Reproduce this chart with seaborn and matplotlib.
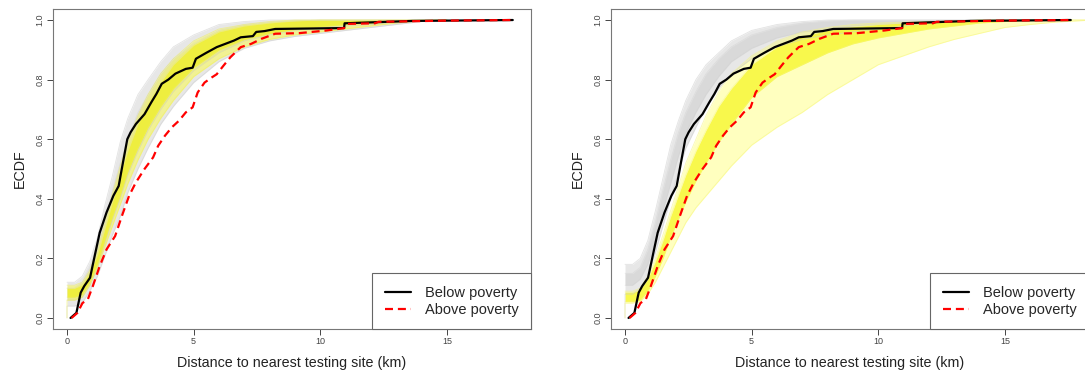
import matplotlib
matplotlib.use("Agg")
import matplotlib.pyplot as plt
import seaborn as sns
import pandas as pd
import numpy as np

below_x = [0.14, 0.37, 0.54, 0.68, 0.91, 1.09, 1.29, 1.56, 1.83, 2.04, 2.21, 2.38, 2.51, 2.72,
           3.06, 3.33, 3.53, 3.74, 4.00, 4.28, 4.69, 4.96, 5.09, 5.50, 5.91, 6.59, 6.86, 7.34,
           7.47, 7.81, 8.22, 10.94, 10.96, 12.3, 13.65, 17.6]
below_y = [0.0, 0.017, 0.085, 0.107, 0.135, 0.207, 0.286, 0.354, 0.41, 0.443, 0.522, 0.60,
           0.623, 0.651, 0.684, 0.724, 0.752, 0.786, 0.80, 0.82, 0.836, 0.84, 0.87, 0.89, 0.909,
           0.931, 0.942, 0.946, 0.96, 0.963, 0.97, 0.973, 0.989, 0.993, 0.997, 1.0]

above_x = [0.18, 0.41, 0.61, 0.82, 1.02, 1.29, 1.56, 1.90, 2.17, 2.45, 2.72, 3.06, 3.40, 3.60,
           3.87, 4.14, 4.42, 4.69, 4.96, 5.16, 5.43, 5.71, 5.91, 6.18, 6.45, 6.86, 7.27, 7.68,
           8.22, 9.17, 10.26, 10.94, 11.07, 12.16, 12.3, 15.0, 17.6]
above_y = [0.0, 0.017, 0.05, 0.062, 0.107, 0.174, 0.23, 0.275, 0.343, 0.41, 0.455, 0.50, 0.539,
           0.578, 0.612, 0.64, 0.662, 0.69, 0.707, 0.757, 0.79, 0.807, 0.818, 0.847, 0.875,
           0.909, 0.92, 0.937, 0.954, 0.956, 0.965, 0.973, 0.987, 0.989, 0.994, 0.998, 1.0]

# ---------------- simulated ECDF clouds: envelopes ----------------
band_x = [0, 0.3, 0.6, 0.9, 1.2, 1.5, 1.8, 2.1, 2.4, 2.8, 3.2, 3.7, 4.2, 5, 6, 7, 8, 9, 10,
          11, 12, 13, 14, 15]

# left panel
l_gray_hi = [0.12, 0.12, 0.14, 0.19, 0.27, 0.38, 0.48, 0.59, 0.67, 0.75, 0.80, 0.86, 0.91, 0.95,
             0.985, 0.995, 1, 1, 1, 1, 1, 1, 1, 1]
l_gray_lo = [0.04, 0.04, 0.05, 0.09, 0.14, 0.21, 0.28, 0.34, 0.42, 0.50, 0.57, 0.65, 0.71, 0.79,
             0.86, 0.905, 0.93, 0.945, 0.955, 0.965, 0.975, 0.985, 0.995, 1.0]
l_gray_in_hi = [0.10, 0.10, 0.12, 0.17, 0.24, 0.33, 0.43, 0.52, 0.60, 0.69, 0.75, 0.82, 0.87, 0.92,
                0.965, 0.985, 0.993, 0.997, 1, 1, 1, 1, 1, 1]
l_gray_in_lo = [0.06, 0.06, 0.07, 0.11, 0.17, 0.25, 0.33, 0.40, 0.48, 0.56, 0.63, 0.70, 0.76, 0.83,
                0.89, 0.93, 0.95, 0.965, 0.975, 0.98, 0.985, 0.99, 0.997, 1.0]
l_yel_hi = [0.11, 0.11, 0.12, 0.16, 0.23, 0.32, 0.42, 0.51, 0.59, 0.68, 0.75, 0.82, 0.87, 0.93,
            0.97, 0.985, 0.995, 1, 1, 1, 1, 1, 1, 1]
l_yel_lo = [0.06, 0.06, 0.07, 0.11, 0.17, 0.24, 0.31, 0.38, 0.45, 0.53, 0.60, 0.67, 0.73, 0.81,
            0.87, 0.91, 0.935, 0.95, 0.96, 0.97, 0.98, 0.99, 0.997, 1.0]
l_yel_in_hi = [0.10, 0.10, 0.11, 0.15, 0.21, 0.30, 0.39, 0.48, 0.56, 0.65, 0.72, 0.79, 0.85, 0.915,
               0.96, 0.98, 0.99, 0.997, 1, 1, 1, 1, 1, 1]
l_yel_in_lo = [0.07, 0.07, 0.08, 0.12, 0.18, 0.26, 0.34, 0.41, 0.49, 0.57, 0.64, 0.71, 0.77, 0.84,
               0.90, 0.935, 0.955, 0.968, 0.977, 0.985, 0.99, 0.995, 0.999, 1.0]

# right panel
r_gray_hi = [0.18, 0.18, 0.20, 0.26, 0.36, 0.47, 0.58, 0.66, 0.73, 0.80, 0.85, 0.89, 0.93, 0.965,
             0.985, 0.995, 1, 1, 1, 1, 1, 1, 1, 1]
r_gray_lo = [0.08, 0.08, 0.10, 0.14, 0.22, 0.31, 0.40, 0.49, 0.57, 0.64, 0.71, 0.77, 0.82, 0.87,
             0.91, 0.935, 0.95, 0.96, 0.97, 0.98, 0.99, 0.995, 1.0, 1.0]
r_gray_in_hi = [0.15, 0.15, 0.17, 0.23, 0.32, 0.43, 0.53, 0.62, 0.69, 0.76, 0.82, 0.87, 0.91, 0.95,
                0.975, 0.99, 0.997, 1, 1, 1, 1, 1, 1, 1]
r_gray_in_lo = [0.11, 0.11, 0.13, 0.18, 0.26, 0.36, 0.45, 0.54, 0.62, 0.69, 0.75, 0.81, 0.86, 0.905,
                0.94, 0.96, 0.97, 0.98, 0.985, 0.99, 0.995, 0.998, 1, 1]

r_yel_x = [0, 0.3, 0.6, 0.9, 1.2, 1.5, 1.8, 2.1, 2.4, 2.8, 3.2, 3.7, 4.2, 5, 6, 7, 8, 9, 10,
           11, 12, 13, 14, 15, 16, 17, 18.5]
r_yel_hi = [0.09, 0.09, 0.10, 0.14, 0.20, 0.28, 0.36, 0.44, 0.52, 0.60, 0.68, 0.76, 0.82, 0.88,
            0.93, 0.96, 0.975, 0.985, 0.99, 0.993, 0.995, 0.997, 1, 1, 1, 1, 1]
r_yel_lo = [0.05, 0.05, 0.055, 0.08, 0.12, 0.17, 0.22, 0.27, 0.32, 0.37, 0.41, 0.46, 0.51, 0.58,
            0.64, 0.69, 0.75, 0.80, 0.85, 0.88, 0.91, 0.935, 0.955, 0.975, 0.985, 0.993, 1.0]
r_yel_in_hi = [0.085, 0.085, 0.095, 0.13, 0.19, 0.26, 0.34, 0.41, 0.48, 0.56, 0.63, 0.71, 0.77,
               0.85, 0.91, 0.945, 0.965, 0.977, 0.985, 0.99, 0.993, 0.996, 1, 1, 1, 1, 1]
r_yel_in_lo = [0.055, 0.055, 0.06, 0.09, 0.14, 0.20, 0.27, 0.33, 0.39, 0.46, 0.52, 0.59, 0.65,
               0.74, 0.81, 0.85, 0.89, 0.92, 0.94, 0.955, 0.97, 0.98, 0.99, 0.995, 1, 1, 1]

x_ticks = [0, 5, 10, 15]
y_ticks = [0.0, 0.2, 0.4, 0.6, 0.8, 1.0]
y_ticklabels = ["0.0", "0.2", "0.4", "0.6", "0.8", "1.0"]

# ---------------- drawing ----------------
sns.set_style("white")
plt.rcParams["font.family"] = ["Liberation Sans", "DejaVu Sans"]

W, H = 1085, 373
fig = plt.figure(figsize=(W / 100, H / 100), dpi=100)
ax_l = fig.add_axes([53 / W, 1 - 329 / H, 478 / W, 320 / H])
ax_r = fig.add_axes([611 / W, 1 - 329 / H, 478 / W, 320 / H])

obs = pd.concat([
    pd.DataFrame({"x": below_x, "y": below_y, "group": "Below poverty"}),
    pd.DataFrame({"x": above_x, "y": above_y, "group": "Above poverty"}),
])


def draw_band(ax, xs, lo, hi, lo_in, hi_in, c_out, c_in, a_out, a_in, edge):
    ax.fill_between(xs, lo, hi, color=c_out, alpha=a_out, lw=0)
    ax.fill_between(xs, lo_in, hi_in, color=c_in, alpha=a_in, lw=0)
    ax.plot([xs[0]] + list(xs), [0] + list(lo), color=edge, lw=0.6, alpha=0.6)
    ax.plot(xs, hi, color=edge, lw=0.6, alpha=0.6)
    ax.plot(xs, lo_in, color=edge, lw=0.5, alpha=0.5)
    ax.plot(xs, hi_in, color=edge, lw=0.5, alpha=0.5)


def finish(ax):
    below = obs[obs["group"] == "Below poverty"]
    above = obs[obs["group"] == "Above poverty"]
    sns.lineplot(data=below, x="x", y="y", ax=ax, color="black", lw=1.6, sort=False,
                 estimator=None, label="Below poverty")
    sns.lineplot(data=above, x="x", y="y", ax=ax, color="red", lw=1.6, sort=False,
                 estimator=None, label="Above poverty", dashes=False)
    ax.lines[-1].set_dashes([3.6, 2.2])
    ax.set_xlim(-0.553, 18.32)
    ax.set_ylim(-0.037, 1.037)
    ax.set_xticks(x_ticks)
    ax.set_xticklabels([str(t) for t in x_ticks])
    ax.set_yticks(y_ticks)
    ax.set_yticklabels(y_ticklabels, rotation=90, va="center")
    ax.tick_params(axis="both", which="both", direction="out", length=4, width=0.7,
                   colors="#444444", labelsize=6.5, pad=2, bottom=True, left=True)
    ax.set_xlabel("Distance to nearest testing site (km)", fontsize=10.3, color="#222222",
                  labelpad=7)
    ax.set_ylabel("ECDF", fontsize=10.3, color="#222222", labelpad=6)
    for s in ax.spines.values():
        s.set_visible(True)
        s.set_color("#777777")
        s.set_linewidth(0.8)
    leg = ax.legend(loc="lower right", borderaxespad=0, fancybox=False, fontsize=10.5,
                    handlelength=1.8, handletextpad=0.95, borderpad=0.85, labelspacing=0.2,
                    framealpha=1, edgecolor="#666666")
    leg.get_frame().set_linewidth(0.8)


draw_band(ax_l, band_x, l_gray_lo, l_gray_hi, l_gray_in_lo, l_gray_in_hi,
          "#e2e2e2", "#cdcdcd", 0.8, 0.5, "#d0d0d0")
draw_band(ax_l, band_x, l_yel_lo, l_yel_hi, l_yel_in_lo, l_yel_in_hi,
          "#ffff30", "#f2f200", 0.45, 0.55, "#f0f060")
finish(ax_l)

draw_band(ax_r, band_x, r_gray_lo, r_gray_hi, r_gray_in_lo, r_gray_in_hi,
          "#e2e2e2", "#cdcdcd", 0.8, 0.5, "#d0d0d0")
draw_band(ax_r, r_yel_x, r_yel_lo, r_yel_hi, r_yel_in_lo, r_yel_in_hi,
          "#ffff60", "#f4f400", 0.4, 0.6, "#f6f680")
finish(ax_r)

fig.savefig("out.png", dpi=100)
